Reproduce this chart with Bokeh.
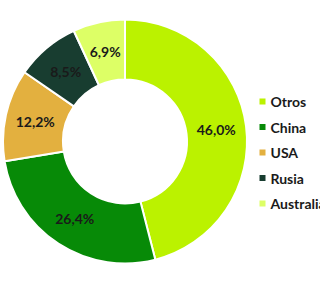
import math
from bokeh.plotting import figure
from bokeh.models import Range1d, ColumnDataSource
from bokeh.core.properties import value
from bokeh.embed import file_html
from bokeh.resources import INLINE

categories = ["Otros", "China", "USA", "Rusia", "Australia"]
shares = [46.0, 26.4, 12.2, 8.5, 6.9]
labels = ["46,0%", "26,4%", "12,2%", "8,5%", "6,9%"]
colors = ["#BBF200", "#078A07", "#E3B03F", "#183D30", "#DDFF66"]

W, H = 320, 285
cx, cy = 124.5, H - 141
r_out, r_in = 122, 62

total = sum(shares)
starts, ends, lx, ly = [], [], [], []
cum = 0.0
for s in shares:
    a0 = math.pi / 2 - cum / total * 2 * math.pi
    cum += s
    a1 = math.pi / 2 - cum / total * 2 * math.pi
    starts.append(a0)
    ends.append(a1)
    mid = (a0 + a1) / 2
    rm = (r_out + r_in) / 2
    lx.append(cx + rm * math.cos(mid))
    ly.append(cy + rm * math.sin(mid))

src = ColumnDataSource(dict(cat=categories, val=shares, lab=labels, col=colors,
                            start=starts, end=ends, lx=lx, ly=ly))

p = figure(width=W, height=H, output_backend="svg", toolbar_location=None,
           x_range=Range1d(0, W), y_range=Range1d(0, H), min_border=0)
p.axis.visible = False
p.grid.visible = False
p.outline_line_color = None
p.background_fill_color = "white"
p.border_fill_color = "white"

p.annular_wedge(x=cx, y=cy, inner_radius=r_in, outer_radius=r_out,
                start_angle="start", end_angle="end", direction="clock",
                fill_color="col", line_color="white", line_width=2, source=src)

p.text(x="lx", y="ly", text="lab", source=src, text_align="center",
       text_baseline="middle", text_font=value("Lato"), text_font_style="bold",
       text_font_size="14px", text_color="#1a1a1a")

# legend
leg_x = [262] * len(categories)
leg_y = [H - (101 + i * 25.5) for i in range(len(categories))]
lsrc = ColumnDataSource(dict(x=leg_x, y=leg_y, tx=[x + 8 for x in leg_x],
                             cat=categories, col=colors))
p.scatter(x="x", y="y", marker="square", size=6, fill_color="col",
          line_color=None, source=lsrc)
p.text(x="tx", y="y", text="cat", source=lsrc, text_align="left",
       text_baseline="middle", text_font=value("Lato"), text_font_style="bold",
       text_font_size="14px", text_color="#1a1a1a")

open("out.html", "w").write(file_html(p, INLINE))
